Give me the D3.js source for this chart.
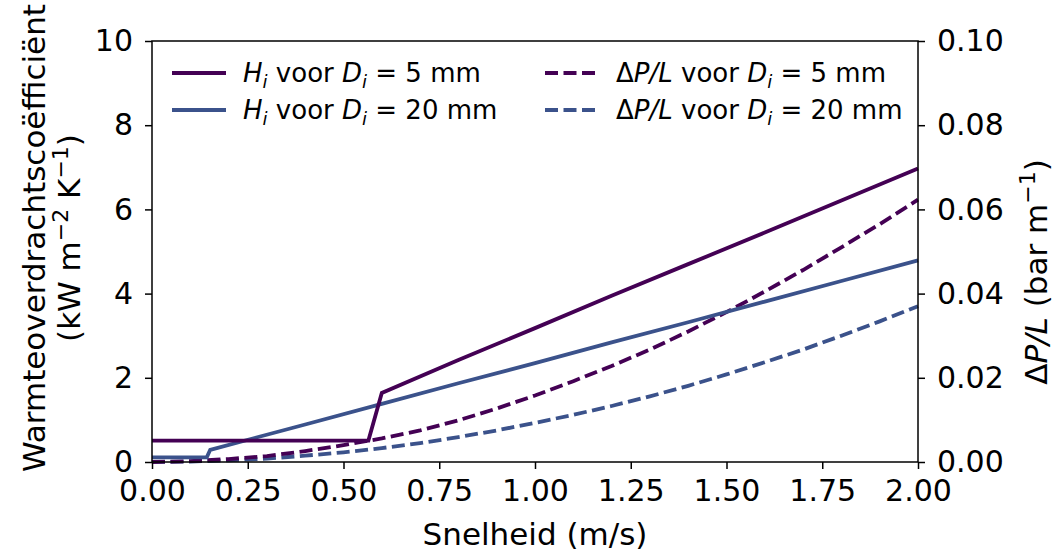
<!DOCTYPE html>
<html>
<head>
<meta charset="utf-8">
<script src="https://cdn.jsdelivr.net/npm/d3@7"></script>
<style>
  body { margin: 0; background: #fff; }
  text { font-family: "DejaVu Sans", sans-serif; fill: #000; }
</style>
</head>
<body>
<svg id="chart" width="1053" height="554"></svg>
<script>
// tick labels
let xTicks = [0, 0.25, 0.5, 0.75, 1.0, 1.25, 1.5, 1.75, 2.0]
let hTicks = [0, 2, 4, 6, 8, 10]
let pTicks = [0, 0.02, 0.04, 0.06, 0.08, 0.10]

// H_i for D_i = 5 mm (kW m-2 K-1)
let h5Speed = [0, 0.565, 0.60, 0.8, 1.0, 1.2, 1.4, 1.6, 1.8, 2.0]
let h5Value = [0.51, 0.51, 1.64, 2.42, 3.18, 3.95, 4.70, 5.45, 6.21, 6.97]

// H_i for D_i = 20 mm
let h20Speed = [0, 0.143, 0.152, 0.4, 0.6, 0.8, 1.0, 1.2, 1.4, 1.6, 1.8, 2.0]
let h20Value = [0.11, 0.11, 0.29, 0.89, 1.38, 1.87, 2.35, 2.84, 3.32, 3.81, 4.30, 4.79]

// dP/L (bar m-1)
let pSpeed = [0, 0.1, 0.2, 0.3, 0.4, 0.5, 0.6, 0.7, 0.8, 0.9, 1.0, 1.1, 1.2, 1.3, 1.4, 1.5, 1.6, 1.7, 1.8, 1.9, 2.0]
let p5Value = [0, 0.0002, 0.0007, 0.0014, 0.0026, 0.0040, 0.0056, 0.0075, 0.0099, 0.0127, 0.0158, 0.0192, 0.0228, 0.0267, 0.0310, 0.0356, 0.0405, 0.0456, 0.0510, 0.0565, 0.0623]
let p20Value = [0, 0.0001, 0.0004, 0.0008, 0.0015, 0.0023, 0.0033, 0.0045, 0.0059, 0.0075, 0.0093, 0.0112, 0.0133, 0.0156, 0.0181, 0.0208, 0.0237, 0.0267, 0.0300, 0.0334, 0.0370]

let purple = "#440154", blue = "#3b528b"
let lw = 3.8, dashes = "13,5.5"

let margin = {left: 152, right: 918, top: 41, bottom: 462}

let svg = d3.select("#chart")

let x = d3.scaleLinear().domain([0, 2]).range([margin.left, margin.right])
let yH = d3.scaleLinear().domain([0, 10]).range([margin.bottom, margin.top])
let yP = d3.scaleLinear().domain([0, 0.10]).range([margin.bottom, margin.top])

// curves
let lineH = d3.line().x(d => x(d[0])).y(d => yH(d[1]))
let lineP = d3.line().x(d => x(d[0])).y(d => yP(d[1]))

let series = [
  {pts: d3.zip(pSpeed, p20Value), line: lineP, color: blue, dash: dashes},
  {pts: d3.zip(pSpeed, p5Value), line: lineP, color: purple, dash: dashes},
  {pts: d3.zip(h20Speed, h20Value), line: lineH, color: blue, dash: null},
  {pts: d3.zip(h5Speed, h5Value), line: lineH, color: purple, dash: null}
]

svg.append("g").selectAll("path")
  .data(series)
  .enter().append("path")
    .attr("d", d => d.line(d.pts))
    .attr("fill", "none")
    .attr("stroke", d => d.color)
    .attr("stroke-width", lw)
    .attr("stroke-dasharray", d => d.dash)

// frame
svg.append("rect")
  .attr("x", margin.left).attr("y", margin.top)
  .attr("width", margin.right - margin.left).attr("height", margin.bottom - margin.top)
  .attr("fill", "none").attr("stroke", "#000").attr("stroke-width", 1.5)

// axes
function styleAxis(g) {
  g.select(".domain").remove()
  g.selectAll("line").attr("stroke", "#000").attr("stroke-width", 1.5)
  g.selectAll("text").style("font-size", "30px").attr("fill", "#000")
}

svg.append("g")
  .attr("transform", "translate(0," + margin.bottom + ")")
  .call(d3.axisBottom(x).tickValues(xTicks).tickFormat(d3.format(".2f")).tickSize(7).tickPadding(11))
  .call(styleAxis)

svg.append("g")
  .attr("transform", "translate(" + margin.left + ",0)")
  .call(d3.axisLeft(yH).tickValues(hTicks).tickFormat(d3.format("d")).tickSize(7).tickPadding(12))
  .call(styleAxis)

svg.append("g")
  .attr("transform", "translate(" + margin.right + ",0)")
  .call(d3.axisRight(yP).tickValues(pTicks).tickFormat(d3.format(".2f")).tickSize(7).tickPadding(12))
  .call(styleAxis)

// axis titles
svg.append("text")
  .attr("x", (margin.left + margin.right) / 2).attr("y", 545)
  .attr("text-anchor", "middle")
  .style("font-size", "31px")
  .text("Snelheid (m/s)")

let yLab = svg.append("text")
  .attr("transform", "translate(45,238) rotate(-90)")
  .attr("text-anchor", "middle")
  .style("font-size", "31px")
yLab.append("tspan").attr("x", 0).attr("y", 0).text("Warmteoverdrachtscoëfficiënt")
let yLab2 = yLab.append("tspan").attr("x", 0).attr("y", 35)
yLab2.append("tspan").text("(kW m")
yLab2.append("tspan").attr("dy", -12).style("font-size", "22px").text("−2")
yLab2.append("tspan").attr("dy", 12).text(" K")
yLab2.append("tspan").attr("dy", -12).style("font-size", "22px").text("−1")
yLab2.append("tspan").attr("dy", 12).text(")")

let pLab = svg.append("text")
  .attr("transform", "translate(1047,272) rotate(-90)")
  .attr("text-anchor", "middle")
  .style("font-size", "31px")
pLab.append("tspan").text("Δ")
pLab.append("tspan").style("font-style", "italic").text("P/L")
pLab.append("tspan").text(" (bar m")
pLab.append("tspan").attr("dy", -12).style("font-size", "22px").text("−1")
pLab.append("tspan").attr("dy", 12).text(")")

// legend
let legendItems = [
  {sym: "H", D: "5", color: purple, dash: null, col: 0, row: 0},
  {sym: "H", D: "20", color: blue, dash: null, col: 0, row: 1},
  {sym: "dP", D: "5", color: purple, dash: dashes, col: 1, row: 0},
  {sym: "dP", D: "20", color: blue, dash: dashes, col: 1, row: 1}
]
let colX = [172, 545]
let rowY = [73, 110]

let legend = svg.append("g").selectAll("g")
  .data(legendItems)
  .enter().append("g")
    .attr("transform", d => "translate(" + colX[d.col] + "," + rowY[d.row] + ")")

legend.append("line")
  .attr("x1", 0).attr("x2", 54).attr("y1", 0).attr("y2", 0)
  .attr("stroke", d => d.color).attr("stroke-width", lw)
  .attr("stroke-dasharray", d => d.dash)

legend.each(function(d) {
  let t = d3.select(this).append("text")
    .attr("x", 71).attr("y", 9)
    .style("font-size", "26px")
  if (d.sym == "H") {
    t.append("tspan").style("font-style", "italic").text("H")
    t.append("tspan").attr("dy", 6).style("font-size", "18px").style("font-style", "italic").text("i")
    t.append("tspan").attr("dy", -6).text(" voor ")
  } else {
    t.append("tspan").text("Δ")
    t.append("tspan").style("font-style", "italic").text("P/L")
    t.append("tspan").text(" voor ")
  }
  t.append("tspan").style("font-style", "italic").text("D")
  t.append("tspan").attr("dy", 6).style("font-size", "18px").style("font-style", "italic").text("i")
  t.append("tspan").attr("dy", -6).text(" = " + d.D + " mm")
})
</script>
</body>
</html>
